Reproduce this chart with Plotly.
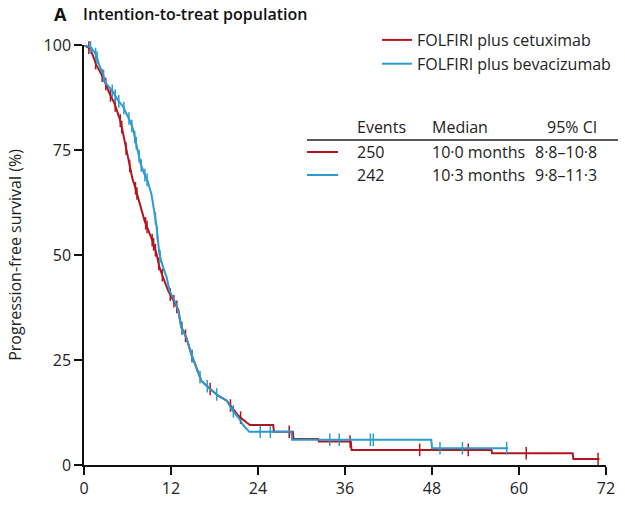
import numpy as np
import plotly.graph_objects as go

# ---------------- data ----------------
cet_time = [0, 0.5, 0.8, 1.2, 1.7, 2.1, 2.6, 3.05, 3.5, 4.2, 4.65, 5.0, 5.3, 5.6, 5.95, 6.35,
            6.7, 7.0, 7.4, 7.9, 8.35, 9.05, 9.5, 10.0, 10.4, 10.9, 11.6, 12.3, 13.0, 13.4,
            14.1, 14.8, 15.5, 16.2, 17.4, 18.5, 19.7, 20.4, 21.3, 22.5, 22.9, 26.1, 26.2,
            28.8, 28.9, 32.3, 32.4, 36.8, 36.9, 56.2, 56.3, 67.4, 67.5, 71.1]
cet_surv = [100, 99.6, 99.2, 97.6, 95.2, 94.0, 92.4, 90.5, 88.5, 86.1, 84.0, 82.0, 79.7, 77.0,
            74.0, 70.8, 68.0, 66.5, 64.0, 61.4, 58.2, 55.1, 53.1, 50.3, 47.1, 44.7, 41.5, 39.3,
            37.0, 33.0, 30.4, 26.4, 23.2, 20.0, 18.1, 16.5, 15.3, 13.7, 11.7, 10.0, 9.5, 9.5,
            7.9, 7.9, 6.2, 6.2, 5.6, 5.6, 3.6, 3.6, 2.8, 2.8, 1.4, 1.4]
cet_censor = [0.67, 1.6, 2.5, 3.0, 3.65, 4.3, 5.0, 5.2, 5.8, 6.3, 7.1, 7.3, 8.5, 8.7, 9.4,
              9.6, 9.85, 10.3, 10.8, 11.9, 12.4, 12.8, 13.5, 14.0, 14.9, 17.4, 20.2, 21.6,
              28.3, 36.7, 46.3, 53.0, 61.0, 70.9]

bev_time = [0, 0.6, 1.0, 1.7, 2.1, 2.6, 3.0, 4.0, 4.65, 5.4, 6.0, 6.4, 6.8, 7.1, 7.45, 7.8,
            8.3, 8.8, 9.3, 9.75, 10.0, 10.2, 10.4, 10.9, 11.4, 11.8, 12.5, 13.0, 13.4, 14.1,
            14.8, 15.5, 16.2, 17.4, 18.5, 19.7, 20.4, 21.3, 22.0, 22.8, 28.6, 28.7, 47.9,
            48.0, 58.5]
bev_surv = [100, 99.6, 99.4, 97.6, 95.2, 93.2, 90.9, 88.9, 86.9, 85.3, 83.3, 81.7, 79.7, 77.3,
            74.9, 71.8, 69.4, 67.5, 64.5, 59.8, 57.0, 53.5, 50.3, 47.1, 44.7, 41.5, 39.1, 36.8,
            32.8, 30.4, 26.4, 23.2, 20.0, 18.1, 16.5, 15.3, 13.2, 11.3, 9.4, 7.9, 7.9, 6.0,
            6.0, 4.0, 4.0]
bev_censor = [0.9, 1.6, 1.8, 2.7, 3.9, 4.3, 4.8, 5.5, 6.2, 6.6, 7.0, 7.2, 7.6, 7.9, 8.4, 8.7,
              9.85, 10.1, 10.5, 13.5, 14.9, 16.0, 17.0, 18.3, 20.6, 24.3, 25.7, 33.9, 35.2,
              39.5, 39.9, 49.1, 52.2, 58.3]

x_ticks = [0, 12, 24, 36, 48, 60, 72]
y_ticks = [0, 25, 50, 75, 100]

series_names = ["FOLFIRI plus cetuximab", "FOLFIRI plus bevacizumab"]
table_header = ["Events", "Median", "95% CI"]
table_rows = [["250", "10·0 months", "8·8–10·8"],
              ["242", "10·3 months", "9·8–11·3"]]

RED = "#B3151E"
BLUE = "#2B9BD0"
FONT = "Open Sans"

fig = go.Figure()

for name, t, s, cens, col in [
    (series_names[0], cet_time, cet_surv, cet_censor, RED),
    (series_names[1], bev_time, bev_surv, bev_censor, BLUE),
]:
    fig.add_trace(go.Scatter(x=t, y=s, mode="lines", name=name,
                             line=dict(color=col, width=2), cliponaxis=False))
    cy = np.interp(cens, t, s)
    fig.add_trace(go.Scatter(x=cens, y=cy, mode="markers", showlegend=False,
                             marker=dict(symbol="line-ns-open", size=9, color=col,
                                         line=dict(color=col, width=1.5)),
                             cliponaxis=False, hoverinfo="skip"))

# plot area in pixels (for placing annotations)
L, R, T, B, W, H = 84, 19, 45, 40, 625, 505
pw, ph = W - L - R, H - T - B
def px(xp):
    return (xp - L) / pw
def py(yp):
    return (H - B - yp) / ph

ann = []
ann.append(dict(text="A", x=px(52), y=py(14), xref="paper", yref="paper",
                xanchor="left", yanchor="middle", showarrow=False,
                font=dict(family=FONT, size=18, color="#111", weight=700)))
ann.append(dict(text="Intention-to-treat population", x=px(81), y=py(14), xref="paper",
                yref="paper", xanchor="left", yanchor="middle", showarrow=False,
                font=dict(family=FONT, size=16, color="#111", weight=600)))

col_x = [355, 430, 545]
row_x = [355, 430, 533]
for j, h in enumerate(table_header):
    ann.append(dict(text=h, x=px(col_x[j]), y=py(127), xref="paper", yref="paper",
                    xanchor="left", yanchor="middle", showarrow=False,
                    font=dict(family=FONT, size=16, color="#222")))
for i, row in enumerate(table_rows):
    yy = [152, 175][i]
    for j, v in enumerate(row):
        ann.append(dict(text=v, x=px(row_x[j]), y=py(yy), xref="paper", yref="paper",
                        xanchor="left", yanchor="middle", showarrow=False,
                        font=dict(family=FONT, size=16, color="#222")))

shapes = [
    dict(type="line", xref="paper", yref="paper", x0=px(307), x1=px(618), y0=py(140),
         y1=py(140), line=dict(color="#222", width=1.5)),
    dict(type="line", xref="paper", yref="paper", x0=px(307), x1=px(338), y0=py(152),
         y1=py(152), line=dict(color=RED, width=2)),
    dict(type="line", xref="paper", yref="paper", x0=px(307), x1=px(338), y0=py(175),
         y1=py(175), line=dict(color=BLUE, width=2)),
]

fig.update_layout(
    width=W, height=H,
    margin=dict(l=L, r=R, t=T, b=B, autoexpand=False),
    paper_bgcolor="white", plot_bgcolor="white",
    font=dict(family=FONT, size=16, color="#222"),
    annotations=ann, shapes=shapes,
    legend=dict(x=px(377), y=py(23), xanchor="left", yanchor="top",
                bgcolor="rgba(0,0,0,0)", font=dict(family=FONT, size=16, color="#222"),
                itemwidth=30, tracegroupgap=0),
    xaxis=dict(range=[0, 72], tickvals=x_ticks, showline=True, linecolor="#111",
               linewidth=1.5, ticks="outside", ticklen=8, tickwidth=1.5, tickcolor="#111",
               showgrid=False, zeroline=False, tickfont=dict(size=16, color="#222"),
               automargin=False),
    yaxis=dict(range=[0, 100], tickvals=y_ticks, showline=True, linecolor="#111",
               linewidth=1.5, ticks="outside", ticklen=8, tickwidth=1.5, tickcolor="#111",
               showgrid=False, zeroline=False, tickfont=dict(size=16, color="#222"),
               automargin=False,
               title=dict(text="Progression-free survival (%)", standoff=18,
                          font=dict(size=16, color="#222"))),
)

fig.write_html("out.html", config={"displayModeBar": False},
               post_script="document.body.style.margin='0';document.body.style.overflow='hidden';")
